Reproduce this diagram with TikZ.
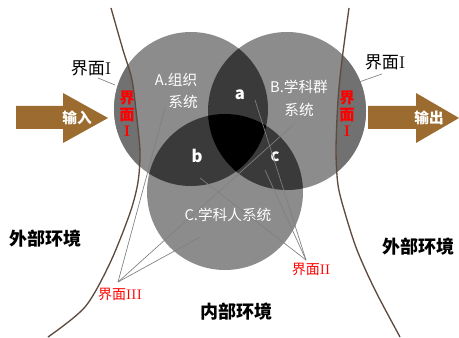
\documentclass[tikz,border=0pt]{standalone}
\usepackage{fontspec}
\newfontfamily\cjk{Noto Sans CJK SC}
\definecolor{single}{HTML}{8C8C8C}
\definecolor{outer}{HTML}{717171}
\definecolor{pair}{HTML}{3A3A3A}
\definecolor{arrowbrown}{HTML}{9C6B30}
\definecolor{curvebrown}{HTML}{5E4B40}
\definecolor{leadgray}{HTML}{808080}
\definecolor{lblred}{HTML}{FF0000}
\begin{document}
\begin{tikzpicture}[x=0.75pt,y=-0.75pt,
  lead/.style={draw=leadgray,line width=0.5pt},
  bound/.style={draw=curvebrown,line width=1pt},
  wtext/.style={text=white,font=\cjk\fontsize{11}{13}\selectfont,inner sep=0pt},
  letter/.style={text=white,font=\cjk\bfseries\fontsize{12.5}{14}\selectfont,inner sep=0pt},
  redv/.style={text=lblred,font=\cjk\bfseries\fontsize{11.5}{12.5}\selectfont,align=center,inner sep=0pt},
  redl/.style={text=lblred,font=\cjk\fontsize{10.5}{12}\selectfont,inner sep=0pt},
  blkl/.style={text=black,font=\cjk\fontsize{12.8}{14}\selectfont,inner sep=0pt},
  env/.style={text=black,font=\cjk\bfseries\fontsize{13.5}{15}\selectfont,inner sep=0pt},
  arr/.style={fill=arrowbrown},
  arrtext/.style={text=white,font=\cjk\bfseries\fontsize{11}{13}\selectfont,inner sep=0pt}]
\useasboundingbox (0,0) rectangle (459,338);
\coordinate (cA) at (191,109);
\coordinate (cB) at (287,111);
\coordinate (cC) at (225,192);
\def\rA{57.75pt}
\def\rB{59.25pt}
\def\rC{58.5pt}
% base circles
\fill[single] (cA) circle[radius=\rA];
\fill[single] (cB) circle[radius=\rB];
\fill[single] (cC) circle[radius=\rC];
% outside-of-boundary darker parts
\begin{scope}
  \clip (0,0) -- (111,0) -- plot[smooth] coordinates {(111,8) (123,50) (132,80) (137,120) (140,152) (138,182) (130,213) (110,263) (85,307) (48,337)} -- (0,338) -- cycle;
  \fill[outer] (cA) circle[radius=\rA];
\end{scope}
\begin{scope}
  \clip (459,0) -- (349,0) -- plot[smooth] coordinates {(349,8) (342,60) (338,100) (336,150) (338,185) (345,213) (357,250) (375,290) (400,337)} -- (459,338) -- cycle;
  \fill[outer] (cB) circle[radius=\rB];
\end{scope}
% pairwise overlaps
\begin{scope}
  \clip (cA) circle[radius=\rA];
  \fill[pair] (cB) circle[radius=\rB];
  \fill[pair] (cC) circle[radius=\rC];
\end{scope}
\begin{scope}
  \clip (cB) circle[radius=\rB];
  \fill[pair] (cC) circle[radius=\rC];
\end{scope}
\begin{scope}
  \clip (cA) circle[radius=\rA];
  \clip (cB) circle[radius=\rB];
  \fill[black] (cC) circle[radius=\rC];
\end{scope}
% boundary curves
\draw[bound] plot[smooth] coordinates {(111,8) (123,50) (132,80) (137,120) (140,152) (138,182) (130,213) (110,263) (85,307) (48,337)};
\draw[bound] plot[smooth] coordinates {(349,8) (342,60) (338,100) (336,150) (338,185) (345,213) (357,250) (375,290) (400,337)};
% arrows
\fill[arr] (16,106) -- (63,106) -- (63,93) -- (108,118) -- (63,143) -- (63,129) -- (16,129) -- cycle;
\fill[arr] (368,106) -- (416,106) -- (416,93) -- (459,118) -- (416,143) -- (416,129) -- (368,129) -- cycle;
\node[arrtext] (in) at (77,118) {输入};
\node[arrtext] (out) at (429,118) {输出};
% texts in circles
\node[wtext] (Aa) at (176,80) {A.组织};
\node[wtext] (Ab) at (183,102) {系统};
\node[wtext] (Ba) at (299,87) {B.学科群};
\node[wtext] (Bb) at (299,110) {系统};
\node[wtext] (Ca) at (228,215) {C.学科人系统};
\node[letter] (la) at (240,95) {a};
\node[letter] (lb) at (197,156) {b};
\node[letter] (lc) at (275,157) {c};
% red vertical labels
\node[redv] (rL) at (127,114) {界\\面\\{\rmfamily I}};
\node[redv] (rR) at (347,114) {界\\面\\{\rmfamily I}};
% black interface labels
\node[blkl] (iL) at (91,68) {界面{\rmfamily I}};
\node[blkl] (iR) at (385,62) {界面{\rmfamily I}};
\coordinate (iLs) at (98,78);
\coordinate (iLe) at (115,85);
\coordinate (iRs) at (382,74);
\coordinate (iRe) at (359,82);
\draw[lead] (iLs) -- (iLe);
\draw[lead] (iRs) -- (iRe);
% environment labels
\node[env] (envL) at (45,239) {外部环境};
\node[env] (envR) at (418,247) {外部环境};
\node[env] (envI) at (236,312) {内部环境};
% interface III
\node[redl] (i3) at (120,294) {界面{\rmfamily III}};
\coordinate (ap3) at (118,282);
\coordinate (p3a) at (165,108);
\coordinate (p3b) at (293,125);
\coordinate (p3c) at (200,237);
\draw[lead] (ap3) -- (p3a);
\draw[lead] (ap3) -- (p3b);
\draw[lead] (ap3) -- (p3c);
% interface II
\node[redl] (i2) at (311,269) {界面{\rmfamily II}};
\coordinate (ap2) at (306,260);
\coordinate (p2a) at (255,100);
\coordinate (p2b) at (200,178);
\coordinate (p2c) at (265,170);
\draw[lead] (ap2) -- (p2a);
\draw[lead] (ap2) -- (p2b);
\draw[lead] (ap2) -- (p2c);
\end{tikzpicture}
\end{document}
